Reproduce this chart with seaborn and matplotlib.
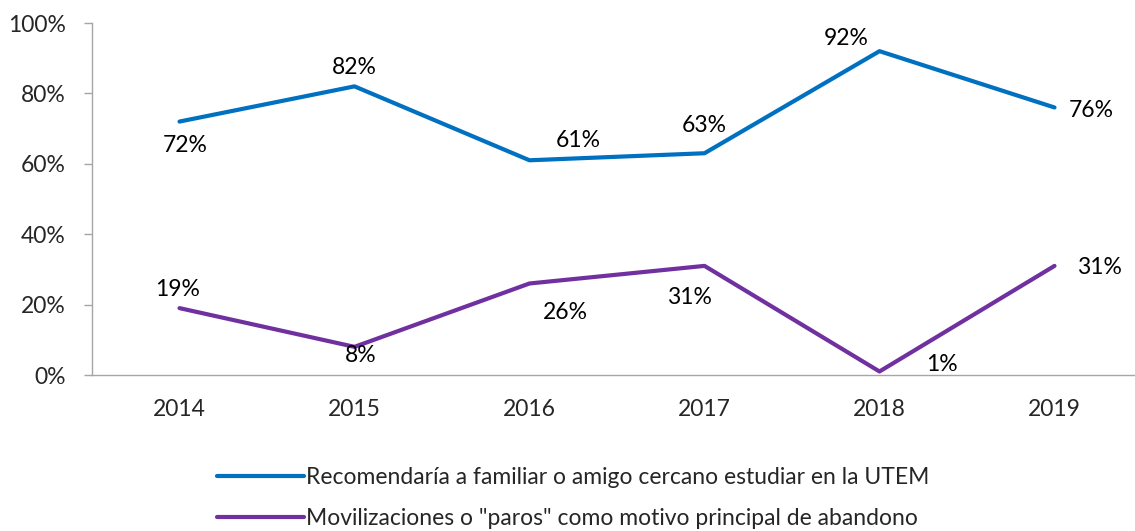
import pandas as pd
import numpy as np
import matplotlib.pyplot as plt
import seaborn as sns
from matplotlib.lines import Line2D

years = ["2014", "2015", "2016", "2017", "2018", "2019"]
recomienda = [72, 82, 61, 63, 92, 76]
paros = [19, 8, 26, 31, 1, 31]
serie_rec = "Recomendaría a familiar o amigo cercano estudiar en la UTEM"
serie_par = 'Movilizaciones o "paros" como motivo principal de abandono'

color_rec = "#0070C0"
color_par = "#7030A0"

# offsets (pixels) for each data label, like the Excel layout
off_rec = [(6, -24), (0, 19), (49, 20), (0, 28), (-33, 13), (37, -3)]
off_par = [(-2, 19), (6, -9), (36, -29), (-15, -32), (62, 7), (45, -2)]

df = pd.DataFrame({
    "x": list(range(len(years))) * 2,
    "valor": recomienda + paros,
    "serie": [serie_rec] * len(years) + [serie_par] * len(years),
})

sns.set_style("white")
plt.rcParams["font.family"] = ["Lato", "DejaVu Sans"]
fs = 16.5

fig = plt.figure(figsize=(11.35, 5.31), dpi=100)
ax = fig.add_axes([92 / 1135, 156 / 531, 1050 / 1135, 352 / 531])

sns.lineplot(data=df, x="x", y="valor", hue="serie", palette=[color_rec, color_par],
             linewidth=3, ax=ax, legend=False, sort=False)

for vals, offs in [(recomienda, off_rec), (paros, off_par)]:
    for i, (v, o) in enumerate(zip(vals, offs)):
        ax.annotate(f"{v}%", (i, v), xytext=o, textcoords="offset pixels",
                    ha="center", va="center", fontsize=fs, color="black")

ax.set_xlim(-0.5, 5.5)
ax.set_ylim(0, 100)
ax.set_yticks(range(0, 101, 20))
ax.set_yticklabels([f"{t}%" for t in range(0, 101, 20)], fontsize=fs)
ax.set_xticks(range(len(years)))
ax.set_xticklabels(years, fontsize=fs)
ax.set_xticks(np.arange(-0.5, 6, 1), minor=True)
ax.tick_params(axis="x", which="major", length=0, pad=17)
ax.tick_params(axis="x", which="minor", length=6, color="#A6A6A6", width=1)
ax.tick_params(axis="y", length=6, color="#A6A6A6", width=1, pad=13, left=True)
ax.set_xlabel("")
ax.set_ylabel("")
for s in ["top", "right"]:
    ax.spines[s].set_visible(False)
for s in ["left", "bottom"]:
    ax.spines[s].set_color("#A6A6A6")
    ax.spines[s].set_linewidth(1)

handles = [Line2D([], [], color=color_rec, lw=3), Line2D([], [], color=color_par, lw=3)]
fig.legend(handles, [serie_rec, serie_par], loc="upper center", bbox_to_anchor=(0.505, 0.16),
           frameon=False, fontsize=fs, handlelength=3.8, handletextpad=0.1, labelspacing=0.9)

fig.savefig("out.png", dpi=100)
